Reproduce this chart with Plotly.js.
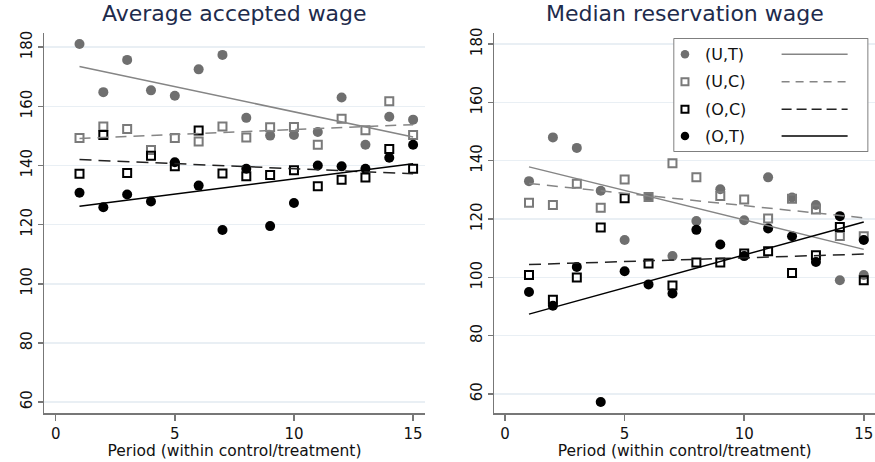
<!DOCTYPE html>
<html><head><meta charset="utf-8">
<script src="https://cdn.plot.ly/plotly-3.0.1.min.js"></script>
<style>html,body{margin:0;padding:0;background:#fff}</style>
</head><body><div id="chart" style="width:875px;height:462px"></div>
<script>
// ---- data ----
const periods = [1,2,3,4,5,6,7,8,9,10,11,12,13,14,15];
const seriesNames = ['(U,T)','(U,C)','(O,C)','(O,T)'];
const panelTitles = ['Average accepted wage','Median reservation wage'];
const xTitle = 'Period (within control/treatment)';
const xTicks = [0,5,10,15];
const yTicks = [60,80,100,120,140,160,180];

// Average accepted wage
const accUT = [181.1,164.8,175.7,165.4,163.6,172.5,177.4,156.1,150.1,150.3,151.3,163.0,147.0,156.5,155.5];
const accUC = [149.3,153.2,152.3,145.2,149.3,148.1,153.2,149.5,152.9,153.0,147.0,155.8,151.9,161.7,150.3];
const accOC = [137.2,150.3,137.5,143.3,139.7,151.8,137.3,136.4,136.8,138.4,133.0,135.2,135.9,145.6,138.9];
const accOT = [130.8,125.9,130.2,127.8,141.1,133.2,118.2,138.9,119.5,127.3,140.0,139.7,138.9,142.6,147.0];
// fitted lines (values at first and last period)
const fitX = [1,15];
const accFitUT = [173.5,149.6];
const accFitUC = [149.1,153.8];
const accFitOC = [142.0,137.2];
const accFitOT = [126.2,140.6];

// Median reservation wage
const resUT = [133.0,148.0,144.4,129.7,112.8,127.6,107.3,119.3,130.2,119.6,134.3,127.4,124.8,99.0,100.8];
const resUC = [125.6,124.8,132.1,123.9,133.6,127.6,139.1,134.3,127.9,126.7,120.2,127.0,123.3,114.2,114.1];
const resOC = [100.8,92.3,100.0,117.1,127.1,104.8,97.2,105.1,105.1,108.2,109.0,101.5,107.6,117.3,99.0];
const resOT = [95.0,90.3,103.6,57.3,102.1,97.6,94.5,116.3,111.3,107.3,116.8,114.1,105.3,121.0,112.8];
const resFitUT = [137.9,109.6];
const resFitUC = [132.2,120.4];
const resFitOC = [104.4,108.0];
const resFitOT = [87.4,119.0];

// ---- styles ----
const GRAY = '#6f6f6f';
const GRAYLINE = '#858585';
const FONT = 'DejaVu Sans, Verdana, sans-serif';
const styles = [
  {marker:{symbol:'circle', size:10, color:GRAY}, line:{color:GRAYLINE, width:1.5, dash:'solid'}},
  {marker:{symbol:'square-open', size:8, color:'#7a7a7a', line:{width:2, color:'#7a7a7a'}}, line:{color:GRAYLINE, width:1.5, dash:'11px,7px'}},
  {marker:{symbol:'square-open', size:8, color:'#000', line:{width:2, color:'#000'}}, line:{color:'#222', width:1.5, dash:'12px,7px'}},
  {marker:{symbol:'circle', size:10, color:'#000'}, line:{color:'#000', width:1.5, dash:'solid'}}
];

const panels = [
  {xa:'x', ya:'y', pts:[accUT,accUC,accOC,accOT], fits:[accFitUT,accFitUC,accFitOC,accFitOT]},
  {xa:'x2', ya:'y2', pts:[resUT,resUC,resOC,resOT], fits:[resFitUT,resFitUC,resFitOC,resFitOT]}
];

const traces = [];
panels.forEach(p => {
  p.pts.forEach((vals,i) => {
    traces.push({type:'scatter', mode:'markers', x:periods, y:vals, xaxis:p.xa, yaxis:p.ya,
      marker:styles[i].marker, showlegend:false, name:seriesNames[i], hoverinfo:'skip'});
  });
  p.fits.forEach((vals,i) => {
    traces.push({type:'scatter', mode:'lines', x:fitX, y:vals, xaxis:p.xa, yaxis:p.ya,
      line:styles[i].line, showlegend:false, hoverinfo:'skip'});
  });
});

// custom legend (marker, label, line sample) drawn in its own unit axes
const legRowY = [0.859,0.617,0.374,0.139];
const legMarkX = 0.059, legTextX = 0.15, legLineX = [0.555,0.894];
seriesNames.forEach((n,i) => {
  const m = Object.assign({}, styles[i].marker);
  m.size = styles[i].marker.symbol === 'circle' ? 8.5 : 7;
  traces.push({type:'scatter', mode:'markers', x:[legMarkX], y:[legRowY[i]], xaxis:'x3', yaxis:'y3',
    marker:m, showlegend:false, hoverinfo:'skip'});
  traces.push({type:'scatter', mode:'lines', x:legLineX, y:[legRowY[i],legRowY[i]], xaxis:'x3', yaxis:'y3',
    line:Object.assign({}, styles[i].line, {dash: i===1 ? '8px,6px' : (i===2 ? '10px,5px' : 'solid')}), showlegend:false, hoverinfo:'skip'});
});

const xBase = {
  tickvals:xTicks, ticks:'outside', ticklen:6, tickwidth:1.5, tickcolor:'#777',
  showline:true, linecolor:'#777', linewidth:1.5, showgrid:false, zeroline:false,
  tickfont:{family:FONT, size:15, color:'#111'},
  title:{text:xTitle, font:{family:FONT, size:15.5, color:'#111'}, standoff:1},
  fixedrange:true
};
const yBase = {
  tickvals:yTicks, ticks:'outside', ticklen:5, tickwidth:1.5, tickcolor:'#777',
  showline:true, linecolor:'#777', linewidth:1.5, showgrid:true, gridcolor:'#e9eff4', gridwidth:1.5,
  zeroline:false, tickangle:-90, tickfont:{family:FONT, size:15, color:'#111'}, fixedrange:true
};

const layout = {
  width:875, height:462,
  margin:{l:44, r:0, t:33, b:49},
  paper_bgcolor:'#fff', plot_bgcolor:'#fff',
  showlegend:false,
  xaxis: Object.assign({}, xBase, {domain:[0,0.4585], range:[-0.49,15.5], anchor:'y'}),
  yaxis: Object.assign({}, yBase, {domain:[0,1], range:[56.3,184.8], anchor:'x'}),
  xaxis2: Object.assign({}, xBase, {domain:[0.5419,1], range:[-0.45,15.47], anchor:'y2'}),
  yaxis2: Object.assign({}, yBase, {domain:[0,1], range:[53.5,183.8], anchor:'x2'}),
  xaxis3: {domain:[0.7575,0.9919], range:[0,1], visible:false, anchor:'y3', fixedrange:true},
  yaxis3: {domain:[0.6874,0.986], range:[0,1], visible:false, anchor:'x3', fixedrange:true},
  shapes:[
    {type:'rect', xref:'x3', yref:'y3', x0:0, x1:1, y0:0, y1:1, layer:'below',
     fillcolor:'#fff', line:{color:'#555', width:1.5}}
  ],
  annotations: [
    {text:panelTitles[0], xref:'paper', yref:'paper', x:0.2292, y:1.05, xanchor:'center', yanchor:'middle',
     showarrow:false, font:{family:FONT, size:22, color:'#1e2b4c'}},
    {text:panelTitles[1], xref:'paper', yref:'paper', x:0.771, y:1.05, xanchor:'center', yanchor:'middle',
     showarrow:false, font:{family:FONT, size:22, color:'#1e2b4c'}}
  ].concat(seriesNames.map((n,i) => ({text:n, xref:'x3', yref:'y3', x:legTextX, y:legRowY[i],
     xanchor:'left', yanchor:'middle', showarrow:false, font:{family:FONT, size:16, color:'#111'}})))
};

Plotly.newPlot('chart', traces, layout, {displayModeBar:false, staticPlot:true});
</script>
</body></html>
